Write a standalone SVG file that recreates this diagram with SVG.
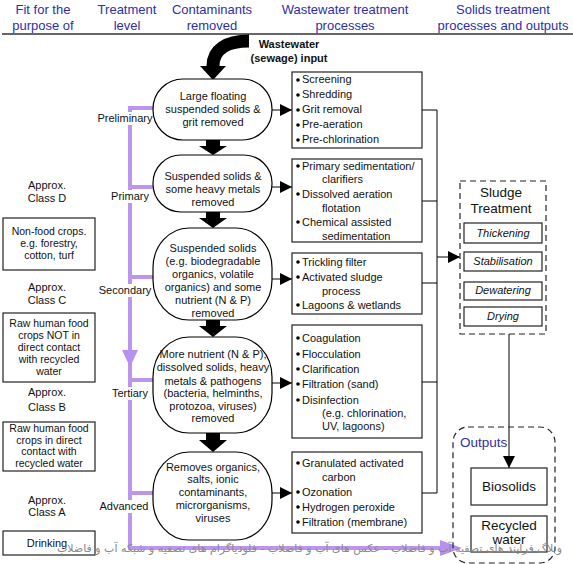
<svg xmlns="http://www.w3.org/2000/svg" width="573" height="564" viewBox="0 0 573 564">
<defs>
<marker id="ahL" viewBox="0 0 10 10" refX="10" refY="5" markerWidth="16" markerHeight="12" markerUnits="userSpaceOnUse" orient="auto"><path d="M0,0 L10,5 L0,10 z" fill="#000"/></marker>
<style>
text{font-family:"Liberation Sans",Arial,sans-serif;font-size:11px;fill:#111}
.hd{font-size:13px;fill:#2e2eaa;text-anchor:middle}
.c{text-anchor:middle}
.sm{font-size:10.5px}
.big{font-size:13.5px}
.out{font-size:13.5px;fill:#2e2eaa}
.bold{font-weight:bold}
.pill{fill:#fff;stroke:#000;stroke-width:1.2}
.box{fill:#fff;stroke:#222;stroke-width:1.2}
.ln{fill:none;stroke:#000;stroke-width:1}
.pu{fill:none;stroke:#bb95ee;stroke-width:4}
.blk{fill:#000}
.it{font-style:italic;text-anchor:middle}
.dash{fill:none;stroke:#222;stroke-width:1.2;stroke-dasharray:6,4}
.wm{font-family:"DejaVu Sans",sans-serif;font-size:11px;fill:#8a8a8a;direction:rtl;unicode-bidi:embed;text-anchor:start}
</style>
</defs>
<rect width="573" height="564" fill="#fff"/>

<g id="headers">
<text class="hd" x="43" y="14">Fit for the</text>
<text class="hd" x="43" y="30">purpose of</text>
<text class="hd" x="127" y="14">Treatment</text>
<text class="hd" x="127" y="30">level</text>
<text class="hd" x="212" y="14">Contaminants</text>
<text class="hd" x="212" y="30">removed</text>
<text class="hd" x="345" y="14">Wastewater treatment</text>
<text class="hd" x="345" y="30">processes</text>
<text class="hd" x="503" y="14">Solids treatment</text>
<text class="hd" x="503" y="30">processes and outputs</text>
<line x1="2" y1="34" x2="573" y2="34" stroke="#666" stroke-width="2"/>
</g>

<g id="connectors">
<path class="pu" d="M153,108 H130 V548 H452"/>
<path d="M440,540 L462,548 L440,556 z" fill="#b890ee"/>
<path d="M122,350 L138,350 L130,367 z" fill="#b890ee"/>
<path class="pu" d="M130,187 H153 M130,277 H153 M130,380 H153 M130,493 H153"/>
<path d="M249,41 C226,41 213,50 213,66" fill="none" stroke="#000" stroke-width="13"/>
<path class="blk" d="M200,66 L226,66 L213,80 z"/>
<path class="blk" d="M206,140 H220 V146 H227 L213,155 L199,146 H206 z"/>
<path class="blk" d="M206,212 H220 V218 H227 L213,228 L199,218 H206 z"/>
<path class="blk" d="M206,320 H220 V326 H227 L213,337 L199,326 H206 z"/>
<path class="blk" d="M206,433 H220 V440 H227 L213,452 L199,440 H206 z"/>
<line class="ln" x1="272" y1="110" x2="292" y2="110" marker-end="url(#ahL)"/>
<line class="ln" x1="272" y1="187" x2="292" y2="187" marker-end="url(#ahL)"/>
<line class="ln" x1="272" y1="279" x2="292" y2="279" marker-end="url(#ahL)"/>
<line class="ln" x1="272" y1="383" x2="292" y2="383" marker-end="url(#ahL)"/>
<line class="ln" x1="272" y1="493" x2="292" y2="493" marker-end="url(#ahL)"/>
<path class="ln" d="M422,110 H437 V493 H422 M422,201 H437 M422,283 H437 M422,382 H437"/>
<line class="ln" x1="437" y1="257" x2="460" y2="257" marker-end="url(#ahL)"/>
<line class="ln" x1="509" y1="334" x2="509" y2="468" marker-end="url(#ahL)"/>
</g>

<g id="input-label">
<text x="289" y="48" class="c bold">Wastewater</text>
<text x="289" y="62" class="c bold">(sewage) input</text>
</g>

<g id="level-labels">
<rect x="97" y="112" width="56" height="13" fill="#fff"/>
<text x="125" y="122" class="c">Preliminary</text>
<rect x="110" y="190" width="40" height="13" fill="#fff"/>
<text x="130" y="200" class="c">Primary</text>
<rect x="98" y="284" width="54" height="13" fill="#fff"/>
<text x="125" y="294" class="c">Secondary</text>
<rect x="109" y="387" width="42" height="13" fill="#fff"/>
<text x="130" y="397" class="c">Tertiary</text>
<rect x="99" y="500" width="52" height="13" fill="#fff"/>
<text x="124" y="510" class="c">Advanced</text>
</g>

<g id="pill-preliminary">
<rect class="pill" x="153" y="79" width="119" height="61" rx="30" ry="30"/>
<text class="c" x="213" y="100">Large floating</text>
<text class="c" x="213" y="113">suspended solids &amp;</text>
<text class="c" x="213" y="126">grit removed</text>
</g>
<g id="pill-primary">
<rect class="pill" x="153" y="155" width="119" height="57" rx="28" ry="28"/>
<text class="c" x="213" y="180">Suspended solids &amp;</text>
<text class="c" x="213" y="193">some heavy metals</text>
<text class="c" x="213" y="206">removed</text>
</g>
<g id="pill-secondary">
<rect class="pill" x="153" y="228" width="119" height="92" rx="36" ry="40"/>
<text class="c" x="213" y="252">Suspended solids</text>
<text class="c" x="213" y="265">(e.g. biodegradable</text>
<text class="c" x="213" y="278">organics, volatile</text>
<text class="c" x="213" y="291">organics) and some</text>
<text class="c" x="213" y="304">nutrient (N &amp; P)</text>
<text class="c" x="213" y="317">removed</text>
</g>
<g id="pill-tertiary">
<rect class="pill" x="153" y="337" width="119" height="96" rx="36" ry="40"/>
<text class="c" x="213" y="358">More nutrient (N &amp; P),</text>
<text class="c" x="213" y="371">dissolved solids, heavy</text>
<text class="c" x="213" y="385">metals &amp; pathogens</text>
<text class="c" x="213" y="397">(bacteria, helminths,</text>
<text class="c" x="213" y="410">protozoa, viruses)</text>
<text class="c" x="213" y="422">removed</text>
</g>
<g id="pill-advanced">
<rect class="pill" x="153" y="452" width="119" height="88" rx="36" ry="40"/>
<text class="c" x="213" y="471">Removes organics,</text>
<text class="c" x="213" y="483">salts, ionic</text>
<text class="c" x="213" y="496">contaminants,</text>
<text class="c" x="213" y="509">microrganisms,</text>
<text class="c" x="213" y="522">viruses</text>
</g>

<g id="box-preliminary">
<rect class="box" x="292" y="72" width="130" height="76"/>
<circle cx="298" cy="80" r="1.8"/><text x="302" y="83">Screening</text>
<circle cx="298" cy="95" r="1.8"/><text x="302" y="98">Shredding</text>
<circle cx="298" cy="110" r="1.8"/><text x="302" y="113">Grit removal</text>
<circle cx="298" cy="125" r="1.8"/><text x="302" y="128">Pre-aeration</text>
<circle cx="298" cy="140" r="1.8"/><text x="302" y="143">Pre-chlorination</text>
</g>
<g id="box-primary">
<rect class="box" x="292" y="159" width="130" height="83"/>
<circle cx="298" cy="166" r="1.8"/><text x="302" y="170">Primary sedimentation/</text>
<text x="322" y="183">clarifiers</text>
<circle cx="298" cy="194" r="1.8"/><text x="302" y="198">Dissolved aeration</text>
<text x="322" y="212">flotation</text>
<circle cx="298" cy="222" r="1.8"/><text x="302" y="226">Chemical assisted</text>
<text x="322" y="240">sedimentation</text>
</g>
<g id="box-secondary">
<rect class="box" x="292" y="253" width="130" height="61"/>
<circle cx="298" cy="262" r="1.8"/><text x="302" y="266">Trickling filter</text>
<circle cx="298" cy="277" r="1.8"/><text x="302" y="281">Activated sludge</text>
<text x="322" y="295">process</text>
<circle cx="298" cy="305" r="1.8"/><text x="302" y="309">Lagoons &amp; wetlands</text>
</g>
<g id="box-tertiary">
<rect class="box" x="292" y="325" width="130" height="113"/>
<circle cx="298" cy="338" r="1.8"/><text x="302" y="342">Coagulation</text>
<circle cx="298" cy="354" r="1.8"/><text x="302" y="358">Flocculation</text>
<circle cx="298" cy="369" r="1.8"/><text x="302" y="373">Clarification</text>
<circle cx="298" cy="384" r="1.8"/><text x="302" y="388">Filtration (sand)</text>
<circle cx="298" cy="400" r="1.8"/><text x="302" y="404">Disinfection</text>
<text x="322" y="417">(e.g. chlorination,</text>
<text x="322" y="430">UV, lagoons)</text>
</g>
<g id="box-advanced">
<rect class="box" x="292" y="452" width="130" height="81"/>
<circle cx="298" cy="463" r="1.8"/><text x="302" y="467">Granulated activated</text>
<text x="322" y="481">carbon</text>
<circle cx="298" cy="492" r="1.8"/><text x="302" y="496">Ozonation</text>
<circle cx="298" cy="507" r="1.8"/><text x="302" y="511">Hydrogen peroxide</text>
<circle cx="298" cy="522" r="1.8"/><text x="302" y="526">Filtration (membrane)</text>
</g>

<g id="sludge-treatment">
<rect class="dash" x="460" y="181" width="86" height="153"/>
<text class="c big" x="501" y="197">Sludge</text>
<text class="c big" x="501" y="213">Treatment</text>
<rect class="box" x="464" y="223" width="78" height="20"/>
<text class="it" x="503" y="237">Thickening</text>
<rect class="box" x="464" y="252" width="78" height="19"/>
<text class="it" x="503" y="265">Stabilisation</text>
<rect class="box" x="464" y="282" width="78" height="18"/>
<text class="it" x="503" y="294">Dewatering</text>
<rect class="box" x="464" y="307" width="78" height="19"/>
<text class="it" x="503" y="320">Drying</text>
</g>

<g id="outputs">
<rect class="dash" x="453" y="427" width="102" height="136" rx="15" ry="15"/>
<text class="out" x="460" y="447">Outputs</text>
</g>
<g id="biosolids">
<rect class="box" x="471" y="468" width="76" height="37"/>
<text class="c big" x="509" y="491">Biosolids</text>
</g>
<g id="recycled-water">
<rect class="box" x="471" y="516" width="76" height="36"/>
<text class="c big" x="509" y="530">Recycled</text>
<text class="c big" x="509" y="544">water</text>
</g>

<g id="fit-purpose">
<text class="c" x="47" y="189">Approx.</text>
<text class="c" x="47" y="202">Class D</text>
<rect class="box" x="3" y="218" width="92" height="52"/>
<text class="c sm" x="49" y="235">Non-food crops.</text>
<text class="c sm" x="49" y="247">e.g. forestry,</text>
<text class="c sm" x="49" y="259">cotton, turf</text>
<text class="c" x="47" y="291">Approx.</text>
<text class="c" x="47" y="304">Class C</text>
<rect class="box" x="3" y="313" width="92" height="69"/>
<text class="c sm" x="49" y="327">Raw human food</text>
<text class="c sm" x="49" y="339">crops NOT in</text>
<text class="c sm" x="49" y="351">direct contact</text>
<text class="c sm" x="49" y="363">with recycled</text>
<text class="c sm" x="49" y="375">water</text>
<text class="c" x="47" y="396">Approx.</text>
<text class="c" x="47" y="411">Class B</text>
<rect class="box" x="3" y="422" width="92" height="49"/>
<text class="c sm" x="49" y="432">Raw human food</text>
<text class="c sm" x="49" y="443.5">crops in direct</text>
<text class="c sm" x="49" y="455">contact with</text>
<text class="c sm" x="49" y="466.5">recycled water</text>
<text class="c" x="47" y="504">Approx.</text>
<text class="c" x="47" y="516">Class A</text>
<rect class="box" x="3" y="531" width="92" height="24"/>
<text class="c" x="47" y="547">Drinking</text>
</g>

<text class="wm" x="562" y="552">وبلاگ فرایند های تصفیه آب و فاضلاب - عکس های آب و فاضلاب - فلودیاگرام های تصفیه و شبکه آب و فاضلاب</text>
</svg>
